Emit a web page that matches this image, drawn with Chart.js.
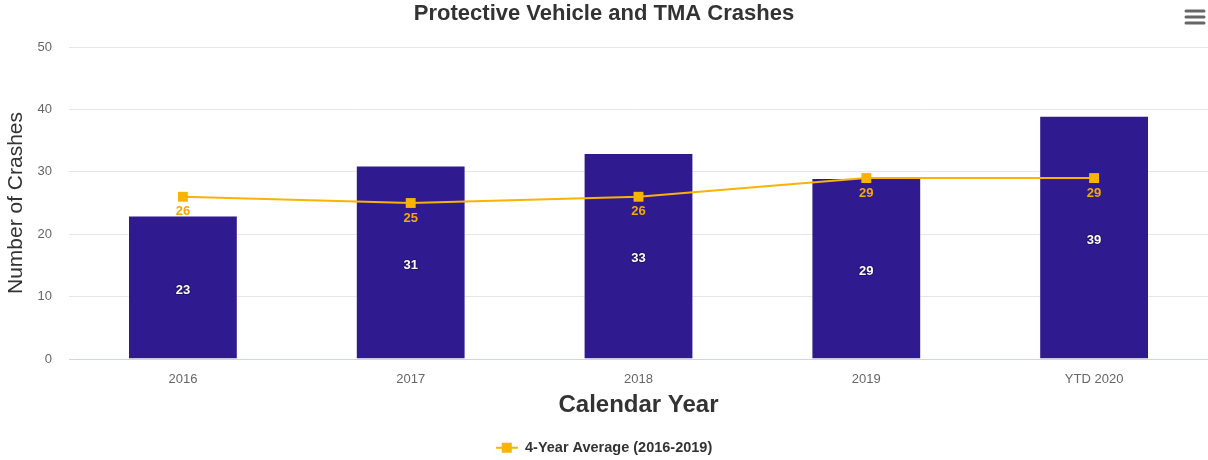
<!DOCTYPE html>
<html>
<head>
<meta charset="utf-8">
<script src="https://cdn.jsdelivr.net/npm/chart.js@4.4.1/dist/chart.umd.min.js"></script>
<style>
html,body{margin:0;padding:0;background:#fff;}
#wrap{width:1208px;height:460px;position:relative;}
</style>
</head>
<body>
<div id="wrap"><canvas id="c" width="1208" height="460"></canvas></div>
<script>
const categories = ['2016', '2017', '2018', '2019', 'YTD 2020'];
const crashes = [23, 31, 33, 29, 39];
const fourYearAverage = [26, 25, 26, 29, 29];
const yTicks = [0, 10, 20, 30, 40, 50];

const FONT = "'Liberation Sans', Arial, Helvetica, sans-serif";
const BAR_COLOR = '#2f1b8f';
const LINE_COLOR = '#f9b300';
const LABEL_ORANGE = '#f2a900';
const BOTTOM_PAD = -5;

// legend symbol: line with square marker
const sym = document.createElement('canvas');
sym.width = 22; sym.height = 12;
(function(){
  const g = sym.getContext('2d');
  g.strokeStyle = LINE_COLOR; g.lineWidth = 2;
  g.beginPath(); g.moveTo(0, 6); g.lineTo(22, 6); g.stroke();
  g.fillStyle = LINE_COLOR; g.fillRect(6, 1, 10, 10);
})();

const labelPlugin = {
  id: 'valueLabels',
  afterDatasetsDraw(chart) {
    const ctx = chart.ctx;
    ctx.save();
    ctx.textAlign = 'center';
    ctx.textBaseline = 'middle';
    ctx.font = 'bold 13px ' + FONT;
    const barMeta = chart.getDatasetMeta(1);
    barMeta.data.forEach((el, i) => {
      const y = (el.y + el.base) / 2 + 3;
      ctx.lineWidth = 2; ctx.strokeStyle = 'rgba(0,0,0,0.25)';
      ctx.strokeText(String(crashes[i]), el.x, y);
      ctx.fillStyle = '#ffffff';
      ctx.fillText(String(crashes[i]), el.x, y);
    });
    const lineMeta = chart.getDatasetMeta(0);
    lineMeta.data.forEach((el, i) => {
      ctx.fillStyle = LABEL_ORANGE;
      ctx.fillText(String(fourYearAverage[i]), el.x, el.y + 15);
    });
    ctx.restore();
  },
  afterDraw(chart) {
    const ctx = chart.ctx;
    ctx.save();
    ctx.strokeStyle = '#666666';
    ctx.lineWidth = 3;
    ctx.lineCap = 'round';
    [11, 17, 23].forEach(y => {
      ctx.beginPath(); ctx.moveTo(1186, y); ctx.lineTo(1204, y); ctx.stroke();
    });
    ctx.restore();
  }
};

new Chart(document.getElementById('c'), {
  type: 'bar',
  data: {
    labels: categories,
    datasets: [
      {
        type: 'line',
        label: '4-Year Average (2016-2019)',
        data: fourYearAverage,
        borderColor: LINE_COLOR,
        backgroundColor: LINE_COLOR,
        borderWidth: 2,
        pointStyle: 'rect',
        pointRadius: 7,
        pointBackgroundColor: LINE_COLOR,
        pointBorderColor: LINE_COLOR,
        pointBorderWidth: 0,
        tension: 0,
        clip: false,
        order: 0
      },
      {
        type: 'bar',
        label: 'Crashes',
        data: crashes,
        backgroundColor: BAR_COLOR,
        borderColor: 'rgba(255,255,255,0.45)',
        borderWidth: 1,
        barPercentage: 0.482,
        categoryPercentage: 1,
        order: 1
      }
    ]
  },
  options: {
    responsive: false,
    animation: false,
    devicePixelRatio: 1,
    layout: { autoPadding: false, padding: { left: 0, right: 0, top: 0, bottom: BOTTOM_PAD } },
    plugins: {
      tooltip: { enabled: false },
      title: {
        display: true,
        text: 'Protective Vehicle and TMA Crashes',
        color: '#333333',
        font: { family: FONT, size: 22, weight: 'bold', lineHeight: 1.2 },
        padding: { top: 1, bottom: 19.6 }
      },
      legend: {
        position: 'bottom',
        labels: {
          filter: (item) => item.datasetIndex === 0,
          usePointStyle: true,
          pointStyle: sym,
          pointStyleWidth: 22,
          color: '#333333',
          font: { family: FONT, size: 14.5, weight: 'bold' },
          padding: 10
        }
      }
    },
    scales: {
      x: {
        grid: { display: false, drawTicks: false },
        border: { display: true, color: '#ccd6eb', width: 1 },
        ticks: { color: '#666666', font: { family: FONT, size: 13 }, padding: 13 },
        title: {
          display: true,
          text: 'Calendar Year',
          color: '#333333',
          font: { family: FONT, size: 24, weight: 'bold', lineHeight: 1.2 },
          padding: { top: 0, bottom: 11 }
        },
        afterFit(scale) {
          const lh = scale.chart.legend ? scale.chart.legend.height : 0;
          scale.height = 460 - BOTTOM_PAD - 359 - lh;
          scale.paddingLeft = 0;
          scale.paddingRight = 0;
        }
      },
      y: {
        min: 0,
        max: 50,
        afterBuildTicks(scale) { scale.ticks = yTicks.map(v => ({ value: v })); },
        grid: { color: '#e6e6e6', drawTicks: false, lineWidth: 1 },
        border: { display: false },
        ticks: { color: '#666666', font: { family: FONT, size: 13 }, padding: 17 },
        title: {
          display: true,
          text: 'Number of Crashes',
          color: '#333333',
          font: { family: FONT, size: 21, lineHeight: 1.2 },
          padding: { top: 4, bottom: 0 }
        },
        afterFit(scale) { scale.width = 69; }
      }
    }
  },
  plugins: [labelPlugin]
});
</script>
</body>
</html>
